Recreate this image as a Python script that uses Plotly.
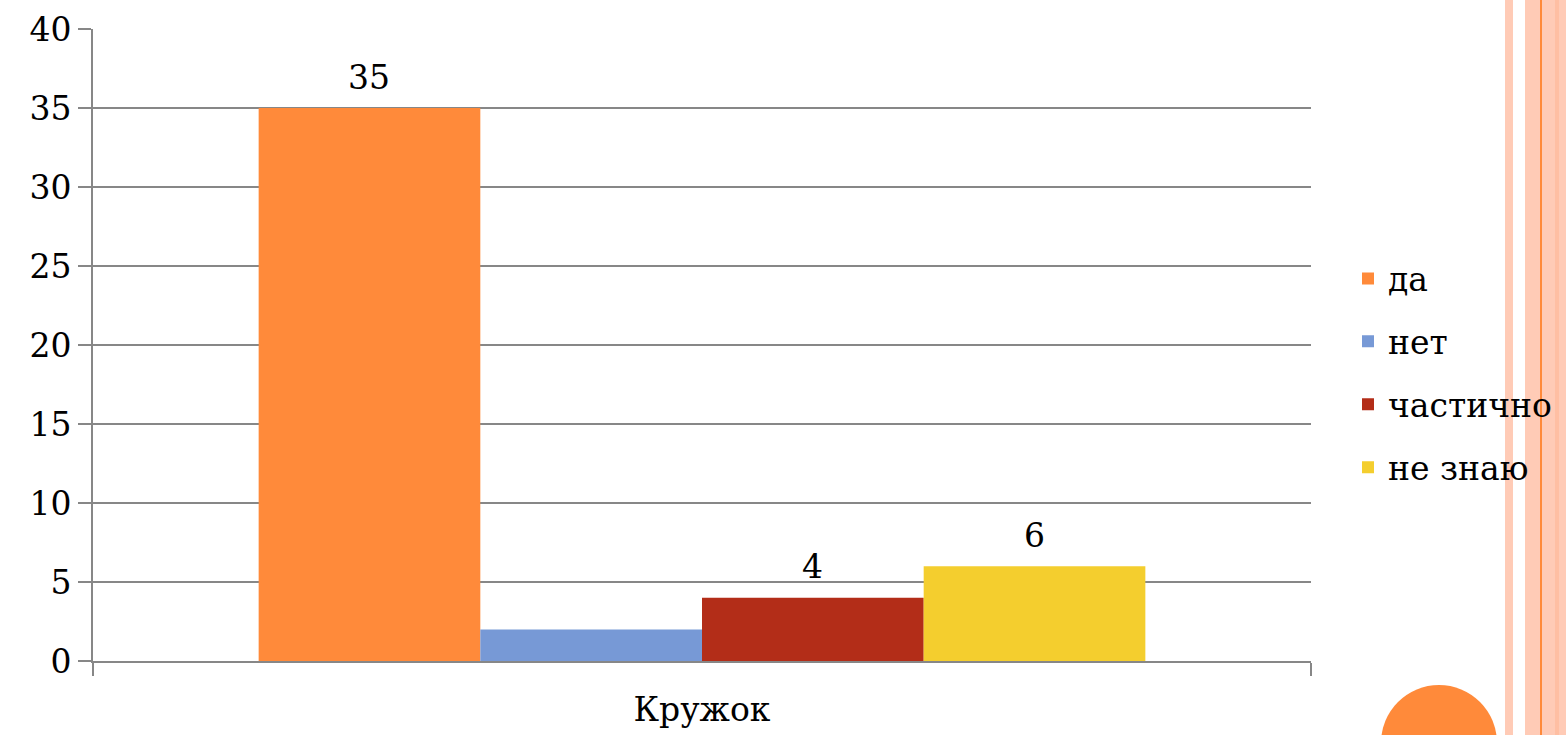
import plotly.graph_objects as go

# ---- data ----
category = ["Кружок"]
series_names = ["да", "нет", "частично", "не знаю"]
series_values = [35, 2, 4, 6]
series_labels = ["35", "", "4", "6"]
series_colors = ["#FF8A3A", "#7799D6", "#B32D18", "#F4CE2E"]
y_ticks = [0, 5, 10, 15, 20, 25, 30, 35, 40]

W, H = 1566, 735
ML, MR, MT, MB = 93, 255, 29, 74
PW, PH = W - ML - MR, H - MT - MB
FONT = "DejaVu Serif"
FS = 33
GRID = "#878787"
BARGAP = 0.272

def px_x(px):
    return (px - ML) / PW

def px_y(py):
    return (H - MB - py) / PH

fig = go.Figure()
n = len(series_names)
bar_w = (1 - BARGAP) / n
annotations = []
for i, (name, val, lab, col) in enumerate(zip(series_names, series_values, series_labels, series_colors)):
    fig.add_trace(go.Bar(
        name=name, x=category, y=[val],
        marker=dict(color=col, line=dict(width=0)),
        legendgroup=name,
    ))
    if lab:
        annotations.append(dict(
            x=(i - (n - 1) / 2) * bar_w, y=val, xref="x", yref="y",
            text=lab, showarrow=False, yanchor="middle", yshift=31,
            font=dict(family=FONT, size=FS, color="black"),
        ))

shapes = []
salmon = "#FFCBB6"
# decorative slide stripes
for x0, x1, c in [(1505, 1513, salmon), (1525, 1566, salmon), (1540, 1542, "#FF8A3A"),
                  (1555, 1559, "#FFBFA3")]:
    shapes.append(dict(type="rect", xref="paper", yref="paper", x0=px_x(x0), x1=px_x(x1),
                       y0=px_y(H), y1=px_y(0), fillcolor=c, line=dict(width=0), layer="below"))
# decorative circle
cx, cy, r = 1439, 743, 58
shapes.append(dict(type="circle", xref="paper", yref="paper", x0=px_x(cx - r), x1=px_x(cx + r),
                   y0=px_y(cy + r), y1=px_y(cy - r), fillcolor="#FF8A3A", line=dict(width=0)))

fig.update_layout(
    width=W, height=H,
    margin=dict(l=ML, r=MR, t=MT, b=MB, autoexpand=False),
    paper_bgcolor="white", plot_bgcolor="white",
    barmode="group", bargap=BARGAP, bargroupgap=0,
    font=dict(family=FONT, size=FS, color="black"),
    showlegend=True,
    legend=dict(x=px_x(1348), xanchor="left", y=px_y(373), yanchor="middle",
                font=dict(family=FONT, size=FS, color="black"),
                tracegroupgap=17, traceorder="grouped", bgcolor="rgba(0,0,0,0)"),
    xaxis=dict(showgrid=False, showline=True, linecolor=GRID, linewidth=2,
               ticks="outside", tickson="boundaries", ticklen=13, tickwidth=2, tickcolor=GRID,
               ticklabelstandoff=18, tickfont=dict(family=FONT, size=FS)),
    yaxis=dict(range=[0, 40], tickvals=y_ticks, showgrid=True, gridcolor=GRID, gridwidth=2,
               showline=True, linecolor=GRID, linewidth=2, zeroline=False,
               ticks="outside", ticklen=13, tickwidth=2, tickcolor=GRID,
               tickfont=dict(family=FONT, size=FS)),
    shapes=shapes,
    annotations=annotations,
)
fig.write_html("out.html", config={"displayModeBar": False},
               post_script="document.body.style.margin='0';document.body.style.overflow='hidden';")
